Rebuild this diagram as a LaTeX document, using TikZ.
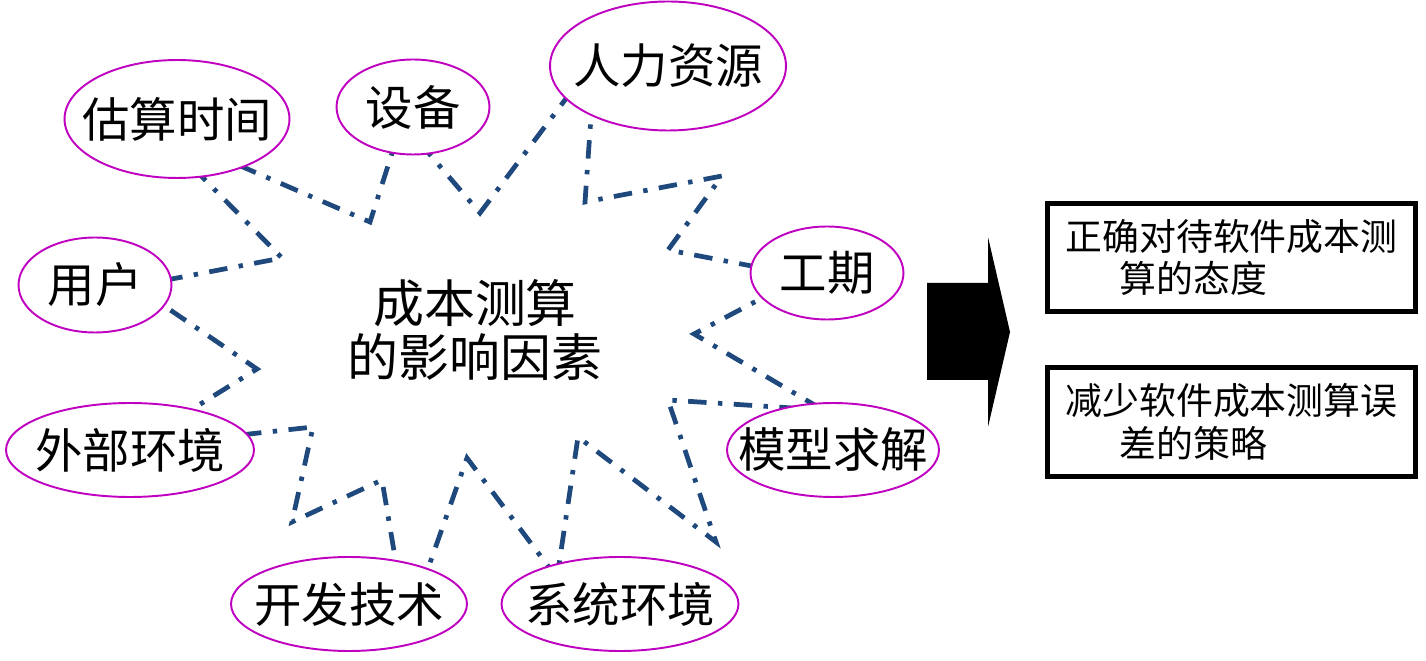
\documentclass[tikz,border=0pt]{standalone}
\usepackage{fontspec}
\newfontfamily\cjk{Noto Sans CJK SC}
\usetikzlibrary{shapes.geometric}
\definecolor{starblue}{RGB}{31,73,125}
\definecolor{ovalpink}{RGB}{192,0,192}
\newcommand{\ovaltext}[1]{\makebox[0pt]{#1}}

\begin{document}
\begin{tikzpicture}[x=0.02cm,y=-0.02cm,
    factor/.style={ellipse,draw=ovalpink,line width=1.1pt,fill=white,inner sep=0pt,
      minimum height=1.88cm,font=\cjk\fontsize{27}{30}\selectfont},
    starline/.style={draw=starblue,line width=2.7pt,dash pattern=on 10.5pt off 6.5pt on 2.5pt off 6.5pt},
    result/.style={draw,line width=2.6pt,minimum width=7.37cm,minimum height=2.17cm,
      align=left,inner sep=0pt,font=\cjk\fontsize{21}{24.4}\selectfont}]
    \useasboundingbox (0,0) rectangle (1426,661);

    % zigzag outline round the title
    \draw[starline] (155,129) -- (370,222) -- (402,122) -- (480,213) -- (595,60)
        -- (585,202) -- (722,176) -- (668,250) -- (804,276) -- (694,334)
        -- (823,410) -- (668,400) -- (716,542) -- (578,437) -- (557,578)
        -- (467,458) -- (407,628) -- (382,480) -- (292,522) -- (313,427)
        -- (131,447) -- (257,369) -- (135,286) -- (282,258) -- cycle;

    \node[factor,minimum width=4.5cm,minimum height=2.36cm] (est) at (177,119) {\ovaltext{估算时间}};
    \node[factor,minimum width=3.06cm,minimum height=1.9cm] (equip) at (413,107) {\ovaltext{设备}};
    \node[factor,minimum width=4.72cm,minimum height=2.58cm] (staff) at (668,66) {\ovaltext{人力资源}};
    \node[factor,minimum width=3.06cm,minimum height=1.86cm] (period) at (827,273) {\ovaltext{工期}};
    \node[factor,minimum width=3.06cm,minimum height=1.9cm] (user) at (95,285) {\ovaltext{用户}};
    \node[factor,minimum width=4.96cm] (outside) at (130,450) {\ovaltext{外部环境}};
    \node[factor,minimum width=4.72cm] (devtech) at (349,604) {\ovaltext{开发技术}};
    \node[factor,minimum width=4.74cm] (sysenv) at (620,604) {\ovaltext{系统环境}};
    \node[factor,minimum width=4.24cm] (model) at (833,450) {\ovaltext{模型求解}};

    \node[font=\cjk\fontsize{29}{31}\selectfont,align=center] (title) at (475,330) {成本测算\\的影响因素};

    \fill (927,283) -- (988,283) -- (988,237) -- (1010,332) -- (988,427) -- (988,380) -- (927,380) -- cycle;

    \node[result] (attitude) at (1231.5,257.5) {正确对待软件成本测\\\hspace*{31pt}算的态度};
    \node[result] (strategy) at (1231.5,422) {减少软件成本测算误\\\hspace*{31pt}差的策略};
\end{tikzpicture}
\end{document}
